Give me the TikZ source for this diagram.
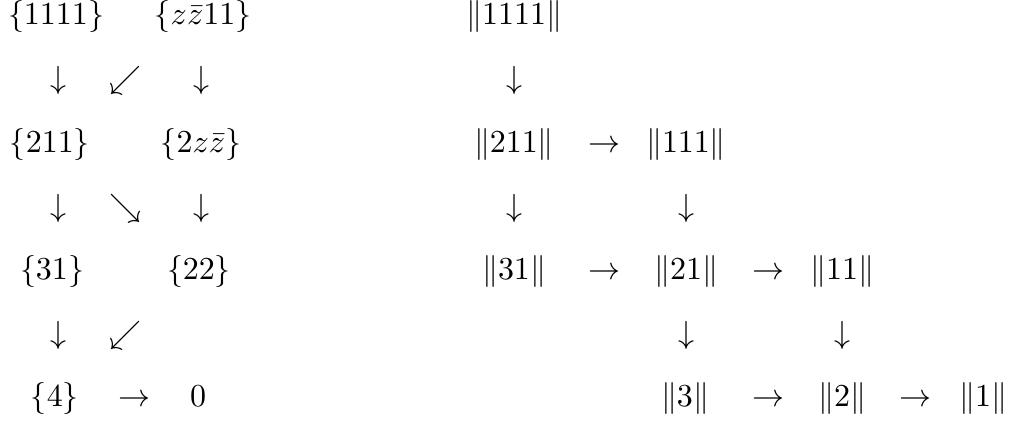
\documentclass[tikz,border=0pt]{standalone}
\usepackage{tikz}
\begin{document}
\begin{tikzpicture}[x=0.3125pt,y=-0.3125pt,every node/.style={anchor=base,inner sep=0pt}]
\useasboundingbox (0,0) rectangle (1011,423);
% left diagram
\node (s1111) at (56,25) {$\{1111\}$};
\node (szz11) at (203,25) {$\{z\bar{z}11\}$};
\node (da) at (59,89) {$\downarrow$};
\node (swa) at (125,89) {$\swarrow$};
\node (db) at (202,89) {$\downarrow$};
\node (s211) at (50,153) {$\{211\}$};
\node (s2zz) at (201,153) {$\{2z\bar{z}\}$};
\node (dc) at (59,217) {$\downarrow$};
\node (sea) at (125,217) {$\searrow$};
\node (dd) at (202,217) {$\downarrow$};
\node (s31) at (52,280) {$\{31\}$};
\node (s22) at (199,280) {$\{22\}$};
\node (de) at (59,344) {$\downarrow$};
\node (swb) at (125,344) {$\swarrow$};
\node (s4) at (55,407) {$\{4\}$};
\node (ra) at (134,407) {$\to$};
\node (zero) at (198,407) {$0$};
% right diagram
\node (n1111) at (514,25) {$\|1111\|$};
\node (df) at (514,89) {$\downarrow$};
\node (n211) at (514,153) {$\|211\|$};
\node (rb) at (604,153) {$\to$};
\node (n111) at (686,153) {$\|111\|$};
\node (dg) at (514,217) {$\downarrow$};
\node (dh) at (686,217) {$\downarrow$};
\node (n31) at (514,280) {$\|31\|$};
\node (rc) at (604,280) {$\to$};
\node (n21) at (686,280) {$\|21\|$};
\node (rd) at (768,280) {$\to$};
\node (n11) at (842,280) {$\|11\|$};
\node (di) at (686,344) {$\downarrow$};
\node (dj) at (842,344) {$\downarrow$};
\node (n3) at (685,407) {$\|3\|$};
\node (re) at (768,407) {$\to$};
\node (n2) at (842,407) {$\|2\|$};
\node (rf) at (915,407) {$\to$};
\node (n1) at (983,407) {$\|1\|$};
\end{tikzpicture}
\end{document}
